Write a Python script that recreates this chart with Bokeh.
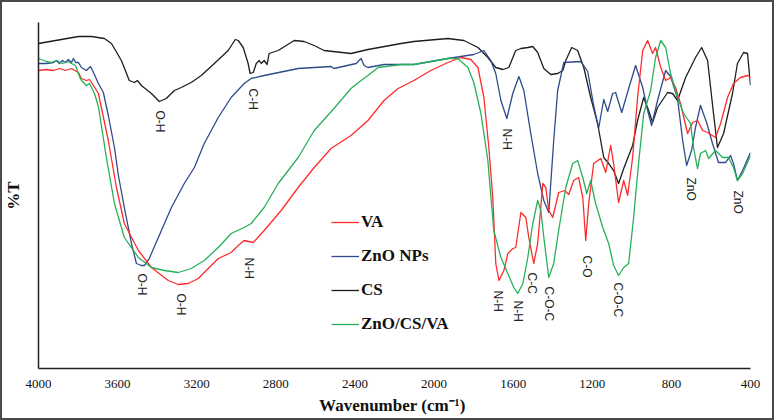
import math
from bokeh.plotting import figure
from bokeh.models import Range1d, FixedTicker, Legend, LegendItem, Title, ColumnDataSource
from bokeh.core.properties import value
from bokeh.embed import file_html
from bokeh.resources import INLINE

# ---------------- data (wavenumber cm-1, transmittance a.u.) ----------------
cs_wn = [4000, 3798, 3732, 3667, 3631, 3581, 3541, 3515, 3500, 3480, 3429, 3389, 3354, 3313, 3278,
         3228, 3177, 3111, 3041, 3005, 2990, 2965, 2940, 2930, 2914, 2899, 2884, 2874, 2859, 2844,
         2834, 2788, 2707, 2657, 2606, 2556, 2420, 2334, 2167, 2102, 1930, 1849, 1778, 1728, 1688,
         1652, 1622, 1587, 1561, 1526, 1501, 1476, 1445, 1410, 1375, 1349, 1334, 1304, 1274, 1243,
         1208, 1173, 1142, 1117, 1092, 1067, 1041, 996, 971, 940, 915, 895, 870, 819, 794,
         769, 728, 678, 647, 617, 587, 567, 536, 491, 466, 435, 415, 400]
cs_t = [325, 332, 332, 330, 325, 308, 288, 286, 288, 283, 275, 267, 270, 278, 281,
        286, 293, 305, 318, 329, 328, 321, 305, 295, 296, 305, 308, 305, 308, 304,
        315, 318, 328, 327, 323, 318, 315, 319, 325, 327, 330, 328, 321, 311, 301,
        299, 301, 318, 320, 321, 322, 316, 300, 294, 295, 298, 308, 321, 318, 301,
        271, 245, 211, 205, 198, 185, 200, 223, 248, 271, 258, 246, 261, 276, 275,
        268, 291, 311, 321, 308, 255, 221, 235, 275, 305, 316, 315, 283]

zno_wn = [4000, 3960, 3924, 3909, 3894, 3879, 3864, 3849, 3833, 3823, 3813, 3798, 3783, 3758, 3737,
          3722, 3697, 3672, 3647, 3616, 3596, 3566, 3530, 3505, 3480, 3465, 3440, 3394, 3328, 3263,
          3212, 3162, 3091, 3026, 2960, 2925, 2859, 2687, 2521, 2506, 2394, 2369, 2354, 2334, 2253,
          2102, 1930, 1799, 1748, 1713, 1688, 1662, 1632, 1602, 1571, 1546, 1511, 1476, 1445, 1420,
          1395, 1375, 1344, 1258, 1223, 1193, 1168, 1142, 1122, 1097, 1082, 1051, 1016, 981, 945,
          920, 900, 870, 829, 804, 769, 743, 723, 698, 678, 653, 622, 592, 562, 526,
          501, 486, 466, 440, 400]
zno_t = [305, 305, 306, 308, 305, 308, 306, 309, 306, 310, 306, 306, 301, 298, 302,
         296, 285, 276, 253, 221, 193, 161, 125, 105, 103, 103, 110, 131, 161, 185,
         201, 225, 251, 271, 285, 290, 293, 300, 302, 300, 305, 310, 303, 301, 304,
         304, 310, 314, 318, 308, 295, 268, 250, 275, 292, 278, 235, 195, 168, 156,
         228, 278, 306, 307, 297, 263, 240, 269, 257, 275, 276, 256, 280, 303, 281,
         258, 243, 268, 298, 292, 270, 228, 203, 218, 241, 263, 246, 225, 206, 206,
         213, 205, 188, 198, 216]

va_wn = [4000, 3960, 3924, 3894, 3864, 3833, 3798, 3783, 3758, 3742, 3732, 3722, 3697, 3647, 3606,
         3566, 3495, 3429, 3344, 3293, 3243, 3192, 3142, 3091, 3026, 2990, 2960, 2914, 2859, 2773,
         2687, 2606, 2521, 2420, 2334, 2253, 2182, 2102, 2016, 1930, 1864, 1814, 1778, 1748, 1723,
         1703, 1688, 1672, 1647, 1627, 1602, 1587, 1561, 1536, 1521, 1496, 1476, 1450, 1435, 1420,
         1400, 1370, 1339, 1319, 1294, 1269, 1248, 1233, 1218, 1193, 1157, 1132, 1107, 1092, 1067,
         1041, 1021, 996, 971, 945, 920, 895, 880, 854, 829, 804, 779, 754, 718, 693,
         668, 642, 617, 577, 551, 516, 486, 451, 415, 400]
va_t = [298, 299, 298, 300, 298, 300, 296, 290, 288, 289, 286, 283, 275, 228, 181,
        145, 118, 101, 88, 84, 85, 90, 100, 110, 116, 123, 128, 126, 138, 158,
        181, 201, 220, 233, 248, 268, 280, 288, 298, 306, 311, 309, 301, 271, 221,
        171, 105, 88, 98, 115, 120, 121, 156, 151, 131, 105, 125, 185, 181, 158,
        151, 176, 178, 174, 188, 191, 171, 128, 165, 205, 210, 196, 223, 205, 166,
        188, 173, 211, 271, 318, 328, 315, 321, 301, 288, 291, 281, 265, 235, 246,
        248, 238, 236, 231, 245, 271, 285, 291, 293, 291]

comp_wn = [4000, 3960, 3934, 3909, 3879, 3849, 3833, 3813, 3793, 3783, 3758, 3742, 3732, 3717, 3697,
           3657, 3616, 3566, 3495, 3429, 3364, 3293, 3228, 3162, 3091, 3026, 2960, 2925, 2859, 2788,
           2687, 2606, 2506, 2420, 2369, 2334, 2283, 2167, 2102, 1930, 1879, 1829, 1799, 1763, 1728,
           1698, 1662, 1627, 1597, 1577, 1551, 1526, 1501, 1476, 1460, 1445, 1420, 1395, 1370, 1334,
           1299, 1274, 1248, 1228, 1208, 1183, 1147, 1117, 1092, 1067, 1041, 1016, 991, 966, 940,
           905, 880, 854, 829, 804, 769, 738, 703, 688, 668, 653, 627, 612, 577, 541,
           511, 486, 466, 440, 400]
comp_t = [310, 307, 306, 308, 305, 307, 305, 303, 292, 288, 283, 285, 281, 275, 262,
          211, 165, 131, 111, 101, 98, 96, 100, 108, 121, 135, 141, 145, 161, 185,
          211, 238, 260, 280, 288, 293, 301, 304, 304, 310, 310, 301, 286, 255, 208,
          138, 111, 95, 81, 75, 85, 111, 145, 168, 158, 131, 91, 105, 138, 181,
          205, 208, 191, 175, 188, 165, 141, 125, 103, 93, 101, 105, 151, 205, 255,
          278, 311, 328, 321, 295, 271, 255, 245, 221, 200, 215, 218, 210, 218, 211,
          211, 201, 188, 195, 213]

series_names = ["VA", "ZnO NPs", "CS", "ZnO/CS/VA"]

ann_text = ["O-H", "C-H", "O-H", "O-H", "N-H", "N-H", "ZnO", "ZnO",
            "N-H", "N-H", "C-C", "C-O-C", "C-O", "C-O-C"]
ann_wn = [3384, 2914, 3475, 3278, 2935, 1632, 703, 461,
          1677, 1576, 1506, 1420, 1228, 1072]
ann_t = [258, 280, 95, 75, 111, 240, 191, 178,
         78, 68, 96, 82, 113, 86]

x_ticks = [4000, 3600, 3200, 2800, 2400, 2000, 1600, 1200, 800, 400]
x_title = "Wavenumber  (cm\u207b\u00b9)"
y_title = "%T"

# ---------------- figure ----------------
p = figure(width=774, height=420, output_backend="svg", toolbar_location=None,
           x_range=Range1d(4000, 400), y_range=Range1d(0, 346),
           min_border_left=37, min_border_right=24, min_border_top=22, min_border_bottom=52)
p.styles = {"background-color": "white", "box-shadow": "inset 0 0 0 2px #4a4a4a"}
p.outline_line_color = None
p.grid.visible = False
p.background_fill_color = "white"
p.border_fill_color = None

SERIF = "Liberation Serif"

p.xaxis.ticker = FixedTicker(ticks=x_ticks)
p.xaxis.major_tick_out = 0
p.xaxis.major_tick_in = 0
p.xaxis.minor_tick_line_color = None
p.xaxis.major_tick_line_color = None
p.xaxis.major_label_standoff = 11
p.xaxis.major_label_text_font = SERIF
p.xaxis.major_label_text_font_size = "13px"
p.xaxis.major_label_text_color = "#111"
p.xaxis.axis_line_color = "#222"
p.xaxis.axis_line_width = 1.5

p.yaxis.ticker = FixedTicker(ticks=[])
p.yaxis.major_tick_line_color = None
p.yaxis.minor_tick_line_color = None
p.yaxis.axis_line_color = "#222"
p.yaxis.axis_line_width = 1.5
p.yaxis.axis_label = y_title
p.yaxis.axis_label_text_font = SERIF
p.yaxis.axis_label_text_font_style = "bold"
p.yaxis.axis_label_text_font_size = "17px"
p.yaxis.axis_label_text_color = "#111"
p.yaxis.axis_label_standoff = 16

r_cs = p.line(cs_wn, cs_t, line_color="#1e1e1e", line_width=1.3, line_join="round")
r_zno = p.line(zno_wn, zno_t, line_color="#2f4b8c", line_width=1.3, line_join="round")
r_va = p.line(va_wn, va_t, line_color="#ff2b2b", line_width=1.3, line_join="round")
r_comp = p.line(comp_wn, comp_t, line_color="#27b05a", line_width=1.3, line_join="round")

src = ColumnDataSource(dict(x=ann_wn, y=ann_t, text=ann_text))
p.text(x="x", y="y", text="text", source=src, angle=-math.pi / 2,
       text_font=value("Liberation Sans"), text_font_size="12px",
       text_align="left", text_baseline="middle", text_color="#222")

legend = Legend(items=[LegendItem(label=series_names[0], renderers=[r_va]),
                       LegendItem(label=series_names[1], renderers=[r_zno]),
                       LegendItem(label=series_names[2], renderers=[r_cs]),
                       LegendItem(label=series_names[3], renderers=[r_comp])],
                location=(293, 34), orientation="vertical",
                border_line_color=None, background_fill_alpha=0,
                padding=0, margin=0, spacing=14,
                glyph_width=28, glyph_height=20, label_height=20, label_standoff=2,
                label_text_font=SERIF, label_text_font_style="bold",
                label_text_font_size="17px", label_text_color="#111")
p.add_layout(legend)

p.add_layout(Title(text=x_title, align="center", offset=32, standoff=6,
                   text_font=SERIF, text_font_style="bold", text_font_size="17px",
                   text_color="#111"), "below")

open("out.html", "w").write(file_html(p, INLINE))
